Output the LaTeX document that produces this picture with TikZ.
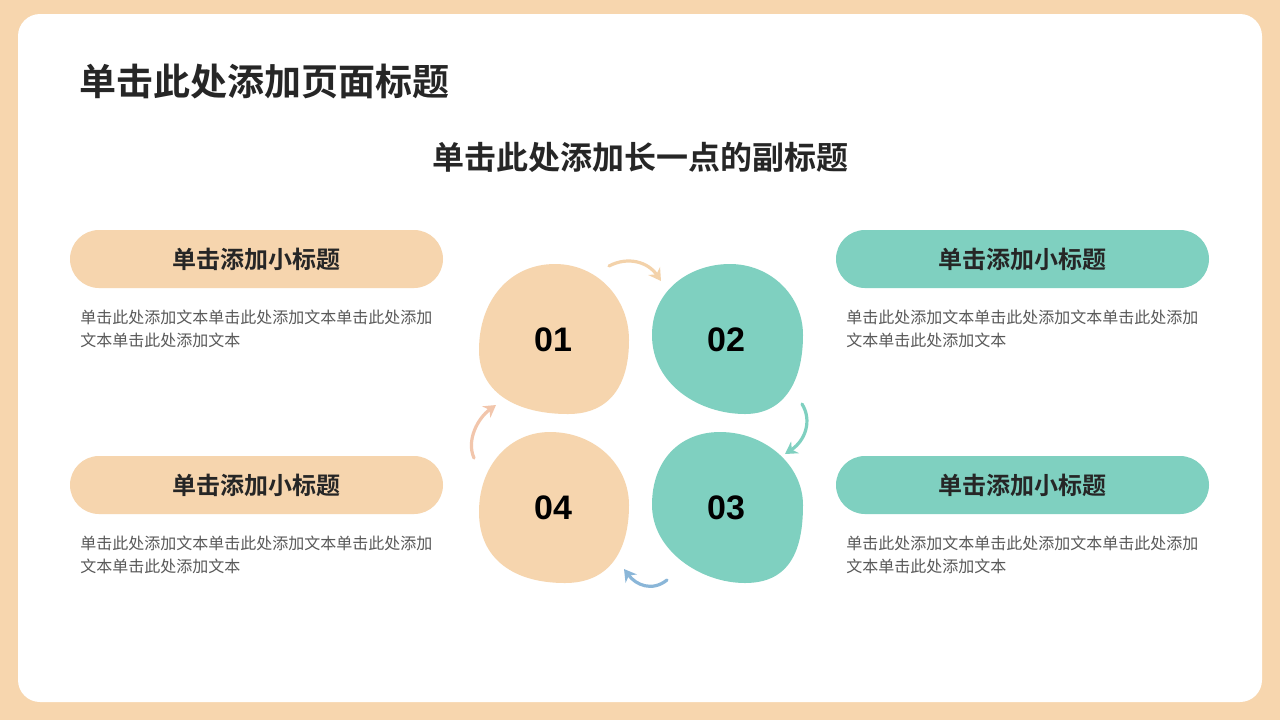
\documentclass[tikz,border=0pt]{standalone}
\usepackage{fontspec}
\setmainfont{Noto Sans CJK SC}[BoldFont={Noto Sans CJK SC Bold}]
\newfontfamily\numfont{Liberation Sans}
\usetikzlibrary{arrows.meta}
\definecolor{peach}{HTML}{F6D5AE}
\definecolor{teal}{HTML}{7FD0C0}
\definecolor{frame}{HTML}{F7D6AE}
\definecolor{dark}{HTML}{262626}
\definecolor{bodyc}{HTML}{595959}
\definecolor{arrA}{HTML}{F3D2AA}
\definecolor{arrB}{HTML}{7FD0C0}
\definecolor{arrC}{HTML}{8AB6D8}
\definecolor{arrD}{HTML}{F2C6AC}
\tikzset{
  pill/.style={rounded corners=14.5pt, minimum width=186.5pt, minimum height=29pt, inner sep=0pt, font=\bfseries\fontsize{12}{14}\selectfont, text=dark},
  bodytext/.style={anchor=north west, inner sep=0pt, align=left, font=\fontsize{8}{11.5}\selectfont, text=bodyc},
  num/.style={font=\numfont\bfseries\fontsize{17}{20}\selectfont, text=black},
  flow/.style={line width=1.6pt, -{Stealth[length=6pt,width=7pt]}, line cap=round}
}
\begin{document}
\begin{tikzpicture}[x=0.5pt,y=-0.5pt]
\useasboundingbox (0,0) rectangle (1280,720);
\fill[frame] (0,0) rectangle (1280,720);
\fill[white, rounded corners=11pt] (18,14) rectangle (1262,702);
% titles
\node[anchor=west, inner sep=0pt, font=\bfseries\fontsize{18.5}{22}\selectfont, text=dark] (title) at (79,82) {单击此处添加页面标题};
\node[inner sep=0pt, font=\bfseries\fontsize{16}{19}\selectfont, text=dark] (sub) at (640,157) {单击此处添加长一点的副标题};
% pills
\node[pill, fill=peach] (p1) at (256.5,259) {单击添加小标题};
\node[pill, fill=teal] (p2) at (1022.5,259) {单击添加小标题};
\node[pill, fill=peach] (p4) at (256.5,485) {单击添加小标题};
\node[pill, fill=teal] (p3) at (1022.5,485) {单击添加小标题};
% body texts
\node[bodytext] (t1) at (80,310) {单击此处添加文本单击此处添加文本单击此处添加\\文本单击此处添加文本};
\node[bodytext] (t2) at (846,310) {单击此处添加文本单击此处添加文本单击此处添加\\文本单击此处添加文本};
\node[bodytext] (t4) at (80,536) {单击此处添加文本单击此处添加文本单击此处添加\\文本单击此处添加文本};
\node[bodytext] (t3) at (846,536) {单击此处添加文本单击此处添加文本单击此处添加\\文本单击此处添加文本};
% blobs
\fill[peach] (555,264) .. controls (597,264) and (629,298) .. (629,340)
  .. controls (629,385) and (610,414) .. (568,414)
  .. controls (520,414) and (479,395) .. (479,350)
  .. controls (479,300) and (510,264) .. cycle;
\fill[teal] (730,264) .. controls (770,264) and (803,295) .. (803,335)
  .. controls (803,380) and (785,414) .. (745,414)
  .. controls (700,414) and (652,385) .. (652,335)
  .. controls (652,290) and (690,264) .. cycle;
\fill[teal] (720,432) .. controls (765,432) and (803,465) .. (803,505)
  .. controls (803,550) and (790,583) .. (745,583)
  .. controls (700,583) and (652,550) .. (652,505)
  .. controls (652,460) and (680,432) .. cycle;
\fill[peach] (550,432) .. controls (595,432) and (629,465) .. (629,505)
  .. controls (629,550) and (610,583) .. (565,583)
  .. controls (515,583) and (479,560) .. (479,512)
  .. controls (479,465) and (510,432) .. cycle;
\node[num] (b1) at (553,340) {01};
\node[num] (b2) at (726,340) {02};
\node[num] (b3) at (726,508) {03};
\node[num] (b4) at (553,508) {04};
% arrows
\coordinate (a1s) at (609,266);
\coordinate (a1e) at (661,281);
\coordinate (a2s) at (802,404);
\coordinate (a2e) at (785,454);
\coordinate (a3s) at (667,580);
\coordinate (a3e) at (624,569);
\coordinate (a4s) at (474,458);
\coordinate (a4e) at (496,405);
\draw[flow, arrA] (a1s) .. controls (628,256) and (648,262) .. (a1e);
\draw[flow, arrB] (a2s) .. controls (812,420) and (806,440) .. (a2e);
\draw[flow, arrC] (a3s) .. controls (652,592) and (636,585) .. (a3e);
\draw[flow, arrD] (a4s) .. controls (466,440) and (478,418) .. (a4e);
\end{tikzpicture}
\end{document}
